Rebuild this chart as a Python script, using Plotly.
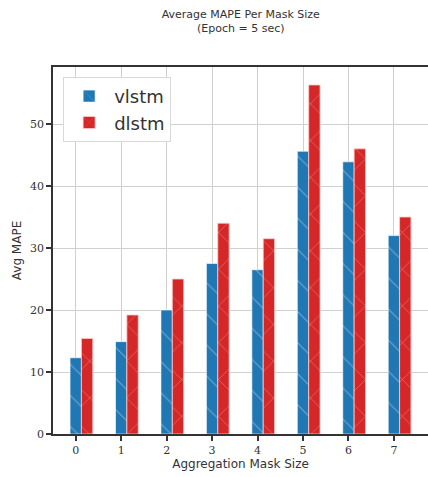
import plotly.graph_objects as go

mask_sizes = [0, 1, 2, 3, 4, 5, 6, 7]
vlstm = [12.3, 14.9, 20.0, 27.5, 26.5, 45.6, 43.9, 32.0]
dlstm = [15.4, 19.2, 25.0, 34.0, 31.5, 56.3, 46.0, 35.0]
y_ticks = [0, 10, 20, 30, 40, 50]

bar_w = 0.25
blue = "#1f77b4"
red = "#d62728"

fig = go.Figure()
fig.add_trace(go.Bar(
    x=mask_sizes, y=vlstm, name="vlstm", width=bar_w, offset=-bar_w / 2,
    marker=dict(color=blue, line=dict(color="rgba(255,255,255,0.6)", width=1),
                pattern=dict(shape="\\", fgcolor="white", fgopacity=0.35, size=22, solidity=0.05)),
))
fig.add_trace(go.Bar(
    x=mask_sizes, y=dlstm, name="dlstm", width=bar_w, offset=bar_w / 2,
    marker=dict(color=red, line=dict(color="rgba(255,200,200,0.8)", width=1),
                pattern=dict(shape="x", fgcolor="white", fgopacity=0.35, size=26, solidity=0.05)),
))

fig.update_layout(
    width=428, height=477,
    margin=dict(l=53, r=0, t=67, b=43, autoexpand=False),
    paper_bgcolor="white", plot_bgcolor="white",
    barmode="overlay",
    title=dict(text="Average MAPE Per Mask Size<br>(Epoch = 5 sec)", x=0.5625, xanchor="center",
               xref="container", y=0.962, yanchor="top",
               font=dict(family="DejaVu Sans", size=11, color="#333"),
               automargin=False),
    font=dict(family="DejaVu Sans", color="#333"),
    xaxis=dict(range=[-0.5, 7.75], tickmode="array", tickvals=mask_sizes, automargin=False,
               ticks="outside", ticklen=5, tickwidth=1.5, tickcolor="#333",
               showgrid=True, gridcolor="#d0d0d0", gridwidth=1,
               showline=True, linecolor="#333", linewidth=1.5, mirror=True,
               tickfont=dict(family="DejaVu Serif", size=11, color="#333"),
               title=dict(text="Aggregation Mask Size", standoff=4,
                          font=dict(family="DejaVu Sans", size=12, color="#333")),
               zeroline=False),
    yaxis=dict(range=[0, 59.2], tickmode="array", tickvals=y_ticks, automargin=False,
               ticks="outside", ticklen=5, tickwidth=1.5, tickcolor="#333",
               showgrid=True, gridcolor="#d0d0d0", gridwidth=1,
               showline=True, linecolor="#333", linewidth=1.5, mirror=False,
               tickfont=dict(family="DejaVu Serif", size=11, color="#333"),
               title=dict(text="Avg MAPE", standoff=6,
                          font=dict(family="DejaVu Sans", size=12, color="#333")),
               zeroline=False),
    legend=dict(x=0.027, y=0.973, xanchor="left", yanchor="top",
                bgcolor="white", bordercolor="#d8d8d8", borderwidth=1,
                font=dict(family="DejaVu Sans", size=18, color="#333"),
                itemwidth=40),
    showlegend=True,
)

fig.write_html(
    "out.html",
    config={"displayModeBar": False},
    post_script="document.documentElement.style.margin='0';document.body.style.margin='0';"
                "document.body.style.overflow='hidden';",
)
